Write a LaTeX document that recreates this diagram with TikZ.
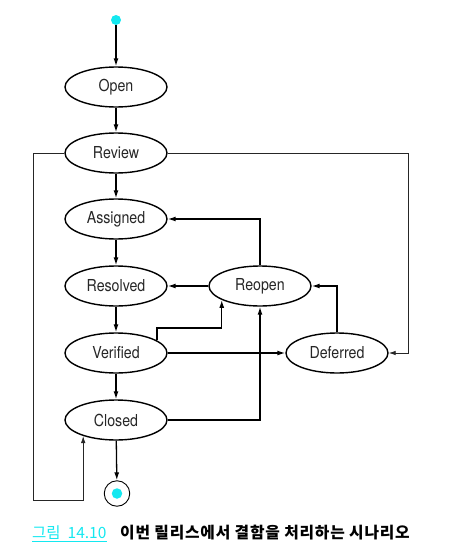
\documentclass[tikz,border=0pt]{standalone}
\usepackage{fontspec}
\usetikzlibrary{shapes.geometric,arrows.meta,calc}
\newfontfamily\statefont{TeX Gyre Heros}[FakeStretch=0.86]
\newfontfamily\capfont{Noto Sans CJK KR}
\newfontfamily\captitlefont{Noto Sans CJK KR}[LetterSpace=5]
\definecolor{dotcyan}{RGB}{20,232,240}
\tikzset{
  state/.style={ellipse, draw, line width=1.4pt, minimum width=102pt, minimum height=40pt,
    inner sep=0pt, text=black!85, font=\statefont\fontsize{16.5}{19}\selectfont},
  arr/.style={line width=1.3pt, -{Latex[length=8pt,width=5pt]}},
  thinarr/.style={line width=0.8pt, draw=black!85, -{Latex[length=7pt,width=4.5pt]}},
}
\begin{document}
\begin{tikzpicture}[x=1pt,y=-1pt]
\useasboundingbox (0,0) rectangle (449,560);

% states
\node[circle, fill=dotcyan, minimum size=10pt, inner sep=0pt] (init) at (116,20) {};
\node[state] (open) at (116,87) {Open};
\node[state] (review) at (116,153) {Review};
\node[state] (assigned) at (116,219) {Assigned};
\node[state] (resolved) at (116,286) {Resolved};
\node[state] (verified) at (116,353) {Verified};
\node[state] (closed) at (116,420) {Closed};
\node[state] (reopen) at (260,286) {Reopen};
\node[state] (deferred) at (337,353) {Deferred};
\node[circle, draw, line width=0.9pt, minimum size=25.5pt, inner sep=0pt] (final) at (117,493.5) {};
\node[circle, fill=dotcyan, minimum size=10.5pt, inner sep=0pt] (finaldot) at (final.center) {};

% helper corners
\coordinate (rt) at (408,153);
\coordinate (lb) at (33,500);

% main flow
\draw[arr] (init) -- (open);
\draw[arr] (open) -- (review);
\draw[arr] (review) -- (assigned);
\draw[arr] (assigned) -- (resolved);
\draw[arr] (resolved) -- (verified);
\draw[arr] (verified) -- (closed);
\draw[arr] (closed) -- (final);

% reopen / defer transitions
\draw[arr] (reopen) -- (resolved);
\draw[arr] (reopen.north) |- (assigned.east);
\draw[arr] (verified.17) |- ([yshift=-28pt]reopen.200) -- (reopen.200);
\draw[arr] (verified) -- (deferred);
\draw[arr] (deferred.north) |- (reopen.east);
\draw[arr] (closed.east) -| (reopen.south);

% review side paths
\draw[thinarr] (review.east) -- (rt) |- (deferred.east);
\draw[thinarr] (review.west) -| (lb) -| (closed.206);

% caption
\node[anchor=base west, inner sep=0pt, text=dotcyan] (capnum) at (32,538.5)
  {\capfont\fontsize{15.5}{18}\selectfont 그림\hspace{7pt}14.10};
\draw[dotcyan, line width=0.9pt] ($(capnum.south west)+(0,1.5)$) -- ($(capnum.south east)+(0,1.5)$);
\node[anchor=base west, inner sep=0pt] (captext) at (120,538.5)
  {\captitlefont\bfseries\fontsize{15.8}{18}\selectfont 이번 릴리스에서 결함을 처리하는 시나리오};
\end{tikzpicture}
\end{document}
